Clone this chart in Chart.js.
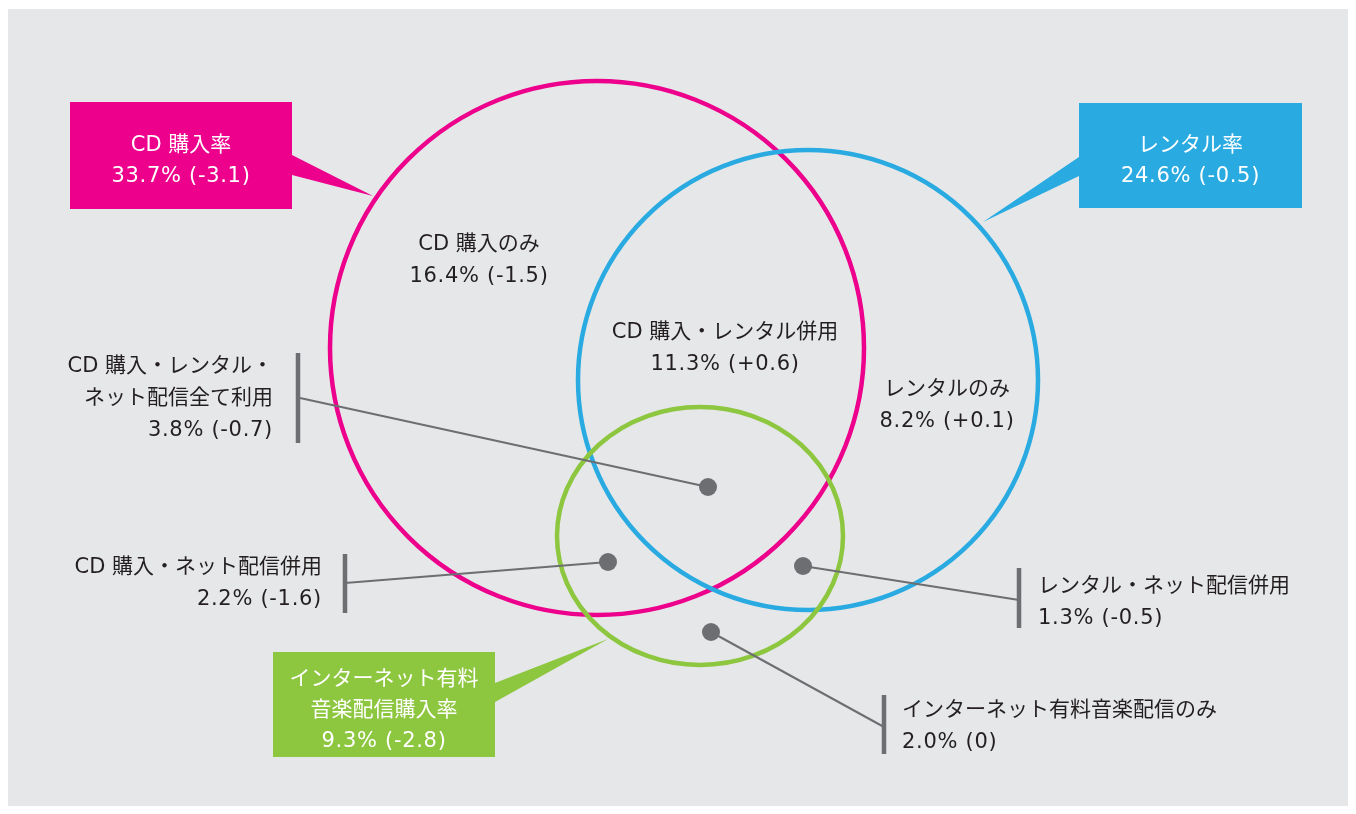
<!DOCTYPE html>
<html>
<head>
<meta charset="utf-8">
<script src="https://cdn.jsdelivr.net/npm/chart.js@4"></script>
<style>
html, body { margin: 0; padding: 0; background: #fff; }
#venn { display: block; }
</style>
</head>
<body>
<canvas id="venn" width="1356" height="814"></canvas>
<script>
// totals for each circle
var setNames = ['CD 購入率', 'レンタル率', 'インターネット有料\n音楽配信購入率']
var setRates = [33.7, 24.6, 9.3]
var setChanges = [-3.1, -0.5, -2.8]

// overlap regions
var regionNames = ['CD 購入のみ', 'CD 購入・レンタル併用', 'レンタルのみ',
  'CD 購入・レンタル・\nネット配信全て利用', 'CD 購入・ネット配信併用',
  'レンタル・ネット配信併用', 'インターネット有料音楽配信のみ']
var regionRates = [16.4, 11.3, 8.2, 3.8, 2.2, 1.3, 2.0]
var regionChanges = [-1.5, 0.6, 0.1, -0.7, -1.6, -0.5, 0]

// layout (chart units = pixels of the 1356x814 picture)
var setColors = ['#ec008c', '#29abe2', '#8dc63f']
var ellipses = [
  {x: 597, y: 348, rx: 267, ry: 267},
  {x: 808, y: 380, rx: 230, ry: 230},
  {x: 700, y: 536, rx: 143, ry: 129}
]
var boxes = [
  {x0: 70, y0: 102, x1: 292, y1: 209, tail: [[292, 155], [292, 175], [373, 196]]},
  {x0: 1079, y0: 103, x1: 1302, y1: 208, tail: [[1079, 157], [1079, 176], [983, 222]]},
  {x0: 273, y0: 652, x1: 495, y1: 757, tail: [[495, 683], [495, 702], [608, 639]]}
]
var labelPos = [
  {x: 479, y: 245, align: 'center'},
  {x: 725, y: 333, align: 'center'},
  {x: 947, y: 390, align: 'center'},
  {x: 273, y: 367, align: 'right'},
  {x: 322, y: 568, align: 'right'},
  {x: 1038, y: 587, align: 'left'},
  {x: 902, y: 711, align: 'left'}
]
// leaders for regions 3..6: dot, end of line, bracket
var leaders = [
  {dot: [708, 487], end: [300, 398], bar: [298, 353, 443]},
  {dot: [608, 562], end: [345, 583], bar: [345, 554, 613]},
  {dot: [803, 566], end: [1019, 600], bar: [1019, 568, 628]},
  {dot: [711, 632], end: [884, 727], bar: [884, 695, 754]}
]

var FONT = "21px 'DejaVu Sans', 'Noto Sans CJK JP', sans-serif"
var LINE_H = 32
var GREY = '#6d6e71'

function fmtChange(c) {
  if (c > 0) return '+' + c.toFixed(1)
  if (c < 0) return c.toFixed(1)
  return '0'
}
function valueText(r, c) {
  return r.toFixed(1) + '% (' + fmtChange(c) + ')'
}

var datasets = []
datasets.push({
  label: 'dots',
  order: 0,
  data: leaders.map(function (l) { return {x: l.dot[0], y: l.dot[1]} }),
  pointRadius: 9,
  pointBackgroundColor: GREY,
  pointBorderWidth: 0
})
leaders.forEach(function (l, i) {
  datasets.push({
    label: 'leader' + i,
    order: 1,
    showLine: true,
    data: [{x: l.dot[0], y: l.dot[1]}, {x: l.end[0], y: l.end[1]}],
    borderColor: GREY,
    borderWidth: 2,
    pointRadius: 0
  })
  datasets.push({
    label: 'bar' + i,
    order: 1,
    showLine: true,
    data: [{x: l.bar[0], y: l.bar[1]}, {x: l.bar[0], y: l.bar[2]}],
    borderColor: GREY,
    borderWidth: 4.5,
    pointRadius: 0
  })
})

function px(chart, x, y) {
  return [chart.scales.x.getPixelForValue(x), chart.scales.y.getPixelForValue(y)]
}

// lines holding a value get a little extra tracking, like the original's wide digits
function drawLine(ctx, s, x, y, isValue) {
  ctx.letterSpacing = isValue ? '0.7px' : '0px'
  ctx.fillText(s, x, y)
}

var vennPlugin = {
  id: 'venn',
  beforeDraw: function (chart) {
    var ctx = chart.ctx
    var a = px(chart, 8, 9), b = px(chart, 1348, 806)
    ctx.save()
    ctx.fillStyle = '#e6e7e9'
    ctx.fillRect(a[0], a[1], b[0] - a[0], b[1] - a[1])
    ctx.restore()
  },
  beforeDatasetsDraw: function (chart) {
    var ctx = chart.ctx
    ctx.save()
    ellipses.forEach(function (e, i) {
      var c = px(chart, e.x, e.y)
      var edge = px(chart, e.x + e.rx, e.y + e.ry)
      ctx.beginPath()
      ctx.ellipse(c[0], c[1], Math.abs(edge[0] - c[0]), Math.abs(edge[1] - c[1]), 0, 0, Math.PI * 2)
      ctx.strokeStyle = setColors[i]
      ctx.lineWidth = 4.5
      ctx.stroke()
    })
    ctx.restore()
  },
  afterDatasetsDraw: function (chart) {
    var ctx = chart.ctx
    ctx.save()
    ctx.font = FONT
    ctx.textBaseline = 'middle'
    // callout boxes
    boxes.forEach(function (b, i) {
      var p0 = px(chart, b.x0, b.y0), p1 = px(chart, b.x1, b.y1)
      ctx.fillStyle = setColors[i]
      ctx.fillRect(p0[0], p0[1], p1[0] - p0[0], p1[1] - p0[1])
      ctx.beginPath()
      b.tail.forEach(function (t, k) {
        var q = px(chart, t[0], t[1])
        if (k === 0) ctx.moveTo(q[0], q[1]); else ctx.lineTo(q[0], q[1])
      })
      ctx.closePath()
      ctx.fill()
      var lines = setNames[i].split('\n').concat([valueText(setRates[i], setChanges[i])])
      var cx = (p0[0] + p1[0]) / 2, cy = (p0[1] + p1[1]) / 2 + 6
      var top = cy - (lines.length - 1) * 31 / 2
      ctx.fillStyle = '#ffffff'
      ctx.textAlign = 'center'
      lines.forEach(function (s, k) { drawLine(ctx, s, cx, top + k * 31, k === lines.length - 1) })
    })
    // region labels
    ctx.fillStyle = '#231f20'
    regionNames.forEach(function (name, i) {
      var lines = name.split('\n').concat([valueText(regionRates[i], regionChanges[i])])
      var p = px(chart, labelPos[i].x, labelPos[i].y)
      ctx.textAlign = labelPos[i].align
      lines.forEach(function (s, k) { drawLine(ctx, s, p[0], p[1] + k * LINE_H, k === lines.length - 1) })
    })
    ctx.restore()
  }
}

var chart = new Chart('venn', {
  type: 'scatter',
  data: {datasets: datasets},
  options: {
    responsive: false,
    animation: false,
    devicePixelRatio: 1,
    layout: {padding: 0, autoPadding: false},
    scales: {
      x: {type: 'linear', min: 0, max: 1356, display: false},
      y: {type: 'linear', min: 0, max: 814, reverse: true, display: false}
    },
    plugins: {
      legend: {display: false},
      tooltip: {enabled: false}
    }
  },
  plugins: [vennPlugin]
})
</script>
</body>
</html>
